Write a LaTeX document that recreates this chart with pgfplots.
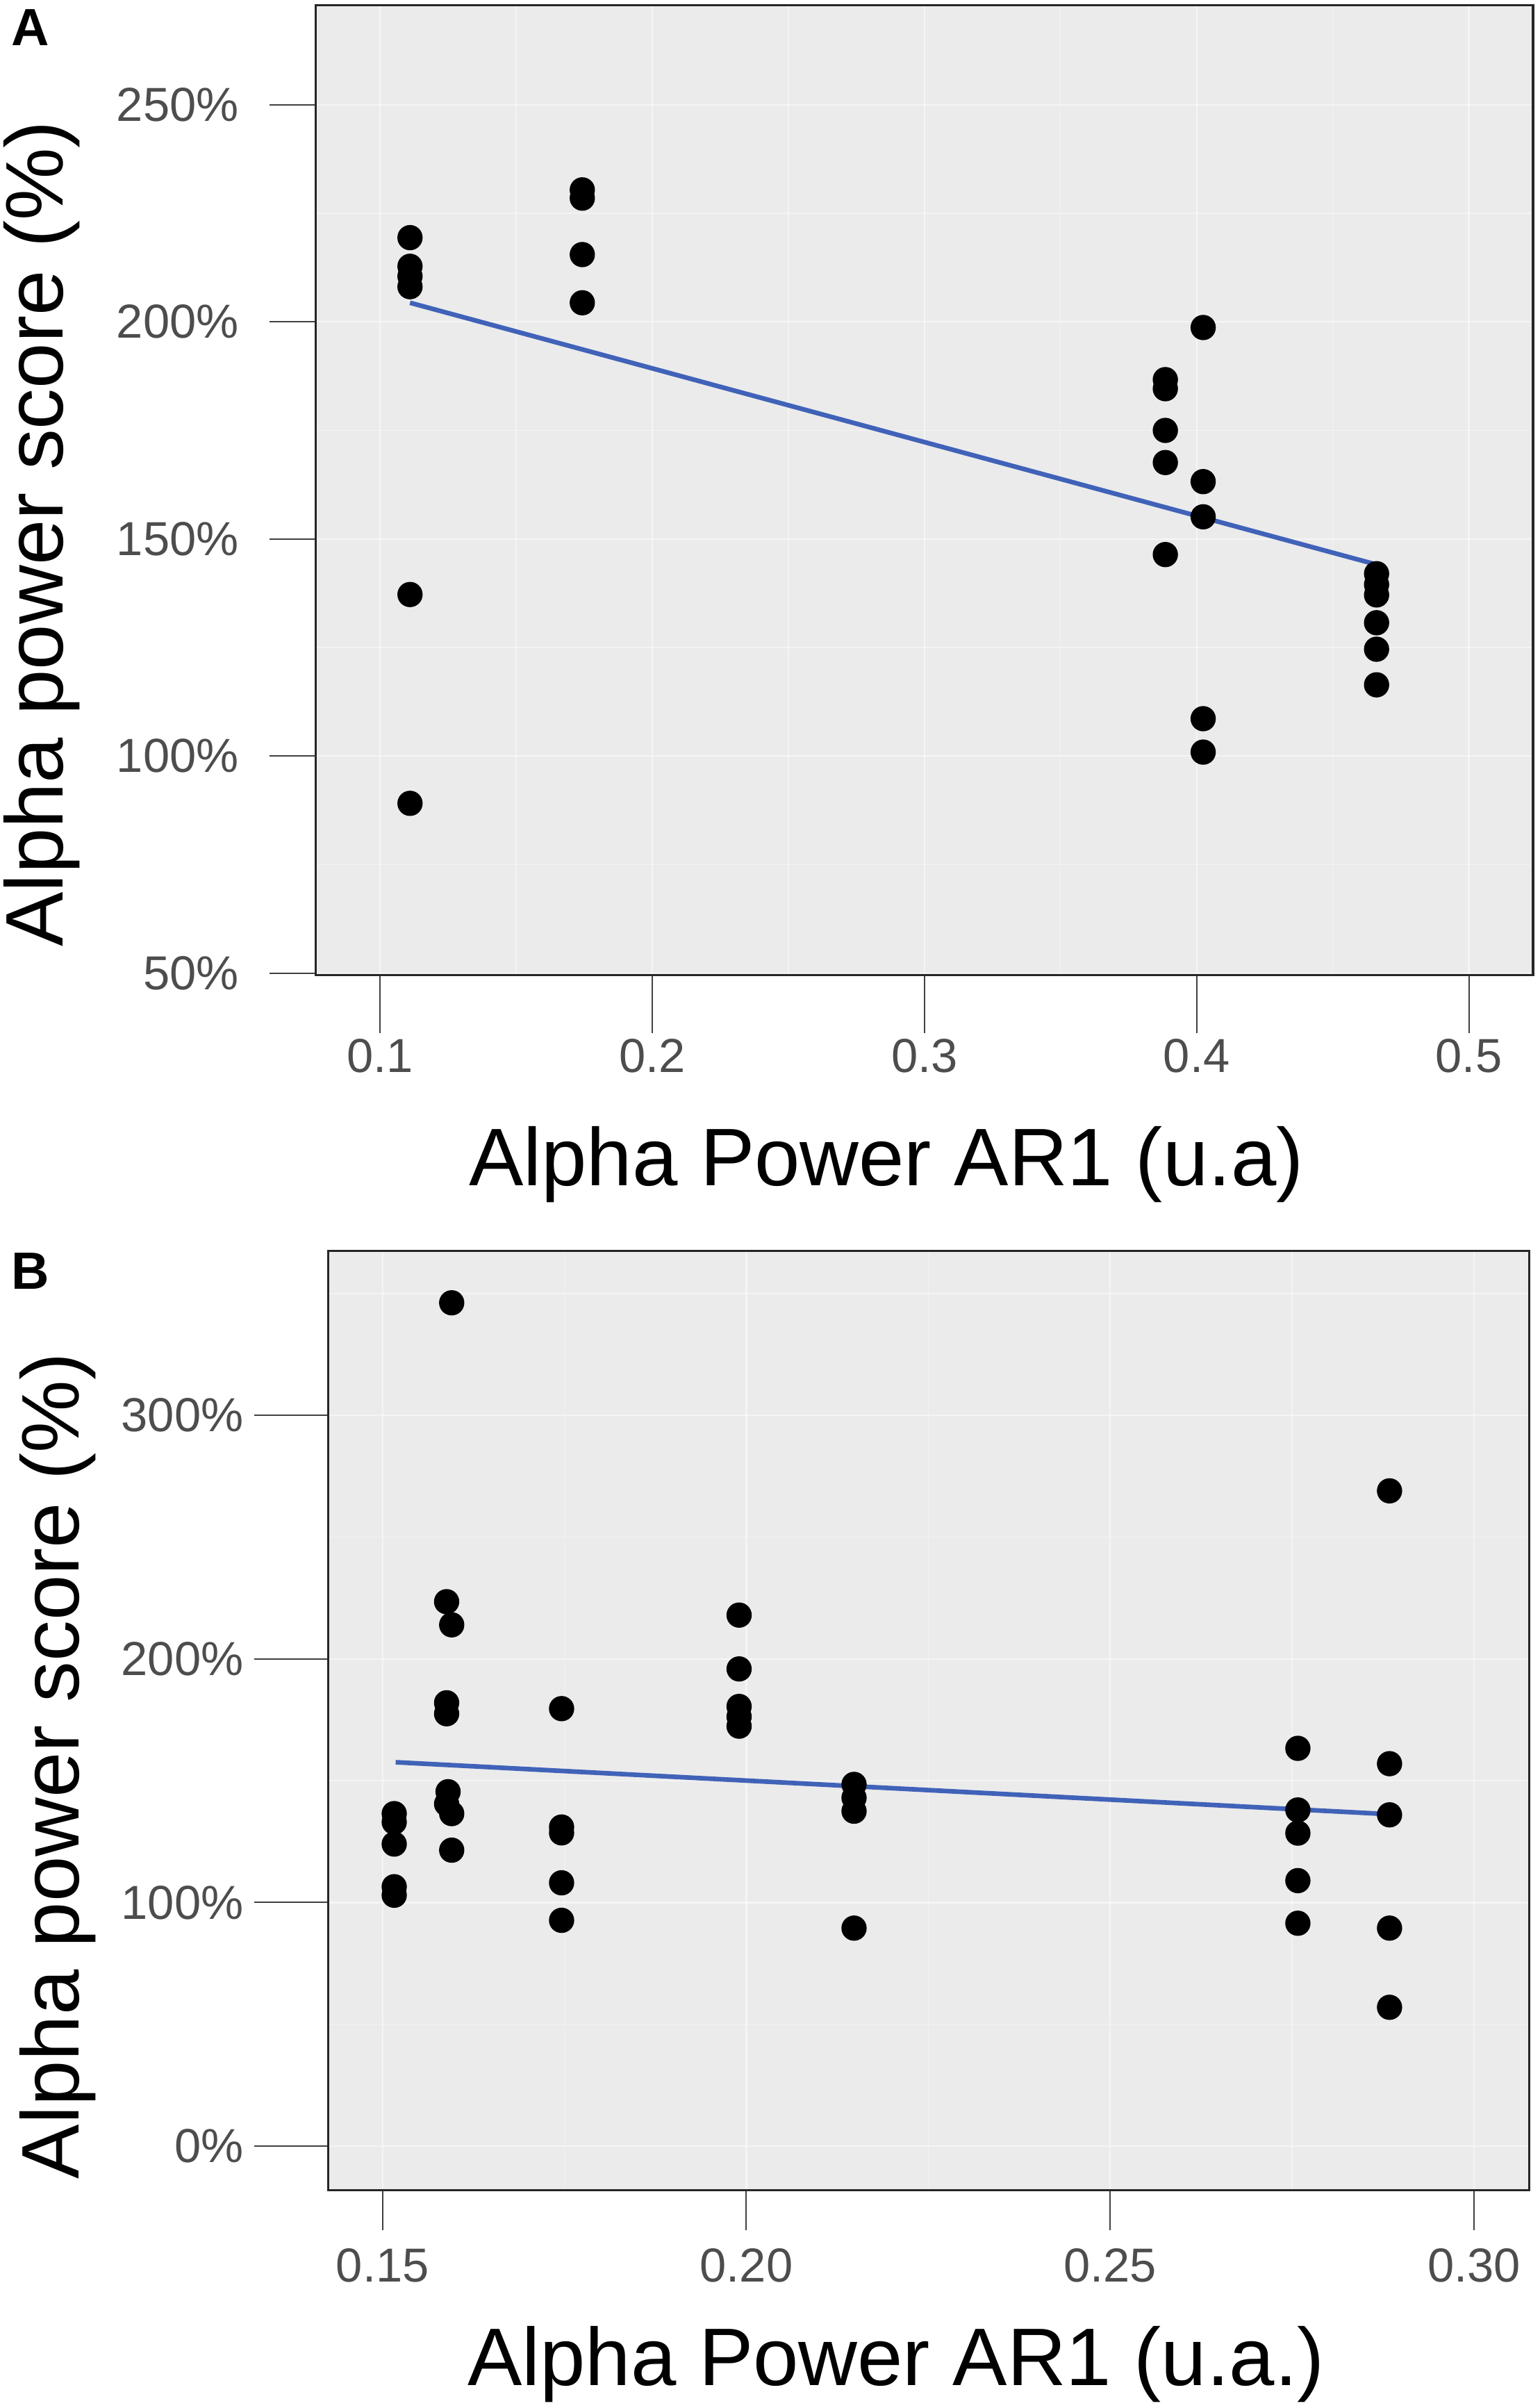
\documentclass[border=0pt]{standalone}
\usepackage{fontspec}
\setmainfont{Liberation Sans}
\usepackage{pgfplots}
\pgfplotsset{compat=1.18}
\definecolor{panelbg}{HTML}{EBEBEB}
\definecolor{fitblue}{HTML}{4062B8}
\definecolor{ticktxt}{HTML}{4D4D4D}
\pgfplotsset{
  mystyle/.style={
    scale only axis, anchor=south west,
    axis background/.style={fill=panelbg},
    axis line style={draw=black!85, line width=0.7pt},
    tick align=outside,
    xtick pos=left, ytick pos=left,
    scaled ticks=false,
    tick style={draw=black!75, line width=0.45pt},
    grid=both,
    major grid style={draw=white, line width=0.5pt, opacity=0.55},
    minor grid style={draw=white, line width=0.3pt, opacity=0.4},
    minor tick length=0pt,
    ticklabel style={font=\fontsize{15.5}{18}\selectfont, text=ticktxt, inner sep=0pt},
    label style={font=\fontsize{26.5}{30}\selectfont},
  },
  dots/.style={only marks, mark=*, mark size=3.9pt, mark options={fill=black, draw=black}},
  fit/.style={no markers, draw=fitblue, line width=1.5pt},
}
\begin{document}
\begin{tikzpicture}
\useasboundingbox (0,0) rectangle (500pt,781.69pt);
% ---------------- Panel A ----------------
\begin{axis}[mystyle,
  at={(102.5pt,465.09pt)}, width=395.25pt, height=314.85pt,
  xmin=0.07635, xmax=0.5236, ymin=49.5, ymax=272.9,
  xtick={0.1,0.2,0.3,0.4,0.5}, xticklabels={0.1,0.2,0.3,0.4,0.5},
  minor xtick={0.15,0.25,0.35,0.45},
  ytick={50,100,150,200,250}, yticklabels={50\%,100\%,150\%,200\%,250\%},
  minor ytick={75,125,175,225},
  xtick style={/pgfplots/major tick length=18.7pt},
  ytick style={/pgfplots/major tick length=15pt},
  xticklabel style={anchor=base, yshift=-27.3pt},
  yticklabel style={anchor=east, xshift=-20.5pt},
  xlabel={Alpha Power AR1 (u.a)},
  ylabel={Alpha power score (\%)},
  xlabel style={at={(axis description cs:0.4687,-0.2172)}, anchor=base},
  ylabel style={at={(axis description cs:-0.2075,0.4553)}, anchor=base},
]
\addplot[dots] coordinates {
  (0.1110,219.4) (0.1110,212.8) (0.1110,210.5) (0.1110,208.1) (0.1110,137.2) (0.1110,89.1)
  (0.1743,230.4) (0.1743,228.5) (0.1743,215.5) (0.1743,204.4)
  (0.3885,186.7) (0.3885,184.6) (0.3885,175.0) (0.3885,167.6) (0.3885,146.4)
  (0.4024,198.7) (0.4024,163.2) (0.4024,155.1) (0.4024,108.6) (0.4024,100.9)
  (0.4661,142.0) (0.4661,139.5) (0.4661,137.1) (0.4661,130.7) (0.4661,124.6) (0.4661,116.4)
};
\addplot[fit] coordinates {(0.1110,204.4) (0.4655,144.2)};
\end{axis}
% ---------------- Panel B ----------------
\begin{axis}[mystyle,
  at={(106.5pt,70.69pt)}, width=390pt, height=305pt,
  xmin=0.1425, xmax=0.3076, ymin=-18.1, ymax=367.6,
  xtick={0.15,0.2,0.25,0.3}, xticklabels={0.15,0.20,0.25,0.30},
  minor xtick={0.175,0.225,0.275},
  ytick={0,100,200,300}, yticklabels={0\%,100\%,200\%,300\%},
  minor ytick={50,150,250,350},
  xtick style={/pgfplots/major tick length=13pt},
  ytick style={/pgfplots/major tick length=24pt},
  xticklabel style={anchor=base, yshift=-25.5pt},
  yticklabel style={anchor=east, xshift=-23pt},
  xlabel={Alpha Power AR1 (u.a.)},
  ylabel={Alpha power score (\%)},
  xlabel style={at={(axis description cs:0.473,-0.2075)}, anchor=base},
  ylabel style={at={(axis description cs:-0.2074,0.4516)}, anchor=base},
]
\addplot[dots] coordinates {
  (0.1516,136.5) (0.1516,133.0) (0.1516,124.0) (0.1516,106.5) (0.1516,103.0)
  (0.1595,346.2) (0.1588,223.5) (0.1595,214.0) (0.1588,182.0) (0.1588,177.5)
  (0.1590,145.5) (0.1588,140.5) (0.1595,136.5) (0.1595,121.5)
  (0.1746,179.6) (0.1746,131.0) (0.1746,128.6) (0.1746,108.1) (0.1746,92.7)
  (0.1990,218.0) (0.1990,195.9) (0.1990,180.5) (0.1990,176.3) (0.1990,172.4)
  (0.2148,148.5) (0.2148,143.0) (0.2148,137.5) (0.2148,89.5)
  (0.2758,163.3) (0.2758,138.0) (0.2758,128.5) (0.2758,109.0) (0.2758,91.5)
  (0.2884,269.0) (0.2884,157.0) (0.2884,136.0) (0.2884,89.5) (0.2884,57.0)
};
\addplot[fit] coordinates {(0.1518,157.6) (0.2881,136.3)};
\end{axis}
\node[anchor=base west, font=\bfseries\fontsize{17}{20}\selectfont, inner sep=0pt] at (3.5pt,767.0pt) {A};
\node[anchor=base west, font=\bfseries\fontsize{17}{20}\selectfont, inner sep=0pt] at (3.6pt,363.3pt) {B};
\end{tikzpicture}
\end{document}
